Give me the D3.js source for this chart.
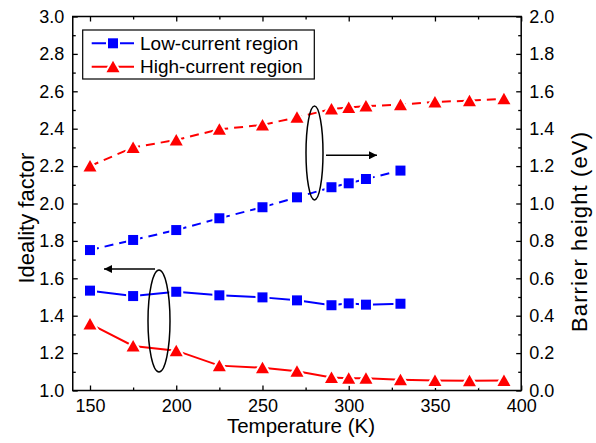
<!DOCTYPE html>
<html><head><meta charset="utf-8">
<script src="https://cdn.jsdelivr.net/npm/d3@7"></script>
<style>body{margin:0;background:#fff}svg{display:block}text{font-family:"Liberation Sans",Arial,sans-serif;fill:#000}</style>
</head><body><svg id="c" width="596" height="443"></svg>
<script>
const tempLow = [150,175,200,225,250,270,290,300,310,330];
const idealLow = [1.534,1.505,1.528,1.509,1.498,1.482,1.456,1.466,1.459,1.464];
const barrierLow = [0.751,0.805,0.858,0.921,0.980,1.033,1.087,1.108,1.131,1.176];
const tempHigh = [150,175,200,225,250,270,290,300,310,330,350,370,390];
const idealHigh = [1.356,1.238,1.213,1.133,1.122,1.103,1.070,1.065,1.065,1.058,1.054,1.052,1.054];
const barrierHigh = [1.200,1.300,1.340,1.397,1.420,1.461,1.505,1.514,1.521,1.528,1.543,1.550,1.560];
const xTicks = [150,200,250,300,350,400];
const yLeftTicks = [1.0,1.2,1.4,1.6,1.8,2.0,2.2,2.4,2.6,2.8,3.0];
const yRightTicks = [0.0,0.2,0.4,0.6,0.8,1.0,1.2,1.4,1.6,1.8,2.0];
const legendLabels = ["Low-current region","High-current region"];
const xLabel = "Temperature (K)", yLeftLabel = "Ideality factor", yRightLabel = "Barrier height (eV)";

const L = 72.75, R = 521.2, T = 16.5, B = 390.5;
const x = d3.scaleLinear().domain([140,400]).range([L,R]);
const yL = d3.scaleLinear().domain([1,3]).range([B,T]);
const yR = d3.scaleLinear().domain([0,2]).range([B,T]);
const svg = d3.select("#c");
const blue = "#0000ff", red = "#ff0000";

// axes
const minorX = d3.range(150,400,25).filter(v=>v%50!==0);
function fmt(v){return v.toFixed(1);}
const gB = svg.append("g").attr("transform",`translate(0,${B})`);
gB.call(d3.axisBottom(x).tickValues(xTicks).tickSize(-5).tickPadding(8.5).tickFormat(d3.format("d")));
gB.append("g").call(d3.axisBottom(x).tickValues(minorX).tickSize(-3).tickFormat(""));
const gT = svg.append("g").attr("transform",`translate(0,${T})`);
gT.call(d3.axisTop(x).tickValues(xTicks).tickSize(-5).tickFormat(""));
gT.append("g").call(d3.axisTop(x).tickValues(minorX).tickSize(-3).tickFormat(""));
const gLft = svg.append("g").attr("transform",`translate(${L},0)`);
gLft.call(d3.axisLeft(yL).tickValues(yLeftTicks).tickSize(-5).tickPadding(8.5).tickFormat(fmt));
gLft.append("g").call(d3.axisLeft(yL).tickValues(d3.range(1.1,3,0.2)).tickSize(-3).tickFormat(""));
const gRt = svg.append("g").attr("transform",`translate(${R},0)`);
gRt.call(d3.axisRight(yR).tickValues(yRightTicks).tickSize(-5).tickPadding(8).tickFormat(fmt));
gRt.append("g").call(d3.axisRight(yR).tickValues(d3.range(0.1,2,0.2)).tickSize(-3).tickFormat(""));
svg.selectAll(".domain").remove();
svg.selectAll(".tick line").attr("stroke","#000").attr("stroke-width",1.3);
svg.selectAll(".tick text").attr("font-size",18).attr("font-family","Liberation Sans, Arial, sans-serif").attr("fill","#000");
svg.append("rect").attr("x",L).attr("y",T).attr("width",R-L).attr("height",B-T)
  .attr("fill","none").attr("stroke","#000").attr("stroke-width",1.5);

// titles
svg.append("text").attr("x",(L+R)/2+4).attr("y",433).attr("text-anchor","middle").attr("font-size",20.5).text(xLabel);
svg.append("text").attr("transform","translate(33.5,283.5) rotate(-90)").attr("font-size",22).text(yLeftLabel);
svg.append("text").attr("transform","translate(587,332) rotate(-90)").attr("font-size",22)
  .attr("textLength",200).attr("lengthAdjust","spacing").text(yRightLabel);

// series
const series = [
  {t:tempLow, v:idealLow, y:yL, c:blue, m:"sq", dash:null},
  {t:tempHigh, v:idealHigh, y:yL, c:red, m:"tri", dash:null},
  {t:tempLow, v:barrierLow, y:yR, c:blue, m:"sq", dash:"9,6"},
  {t:tempHigh, v:barrierHigh, y:yR, c:red, m:"tri", dash:"9,6"}
];
function markerPath(m){
  if(m==="sq") return "M-5,-5H5V5H-5Z";
  return "M0,-6L6.5,5.5L-6.5,5.5Z";
}
series.forEach(s=>{
  const pts = s.t.map((t,i)=>[x(t), s.y(s.v[i])]);
  svg.append("path").attr("d",d3.line()(pts)).attr("fill","none").attr("stroke",s.c)
    .attr("stroke-width",2).attr("stroke-dasharray",s.dash);
  svg.append("g").selectAll("path").data(pts).join("path")
    .attr("transform",d=>`translate(${d[0]},${d[1]})`).attr("d",markerPath(s.m))
    .attr("fill",s.c).attr("stroke","#fff").attr("stroke-width",4).attr("paint-order","stroke");
});

// annotations: ellipses and arrows
svg.append("defs").append("marker").attr("id","ah").attr("viewBox","0 0 10 10").attr("refX",10).attr("refY",5)
  .attr("markerWidth",10).attr("markerHeight",8).attr("markerUnits","userSpaceOnUse").attr("orient","auto")
  .append("path").attr("d","M0,0L10,5L0,10Z").attr("fill","#000");
svg.append("ellipse").attr("cx",314.5).attr("cy",153).attr("rx",8.5).attr("ry",47)
  .attr("fill","none").attr("stroke","#000").attr("stroke-width",1.5);
svg.append("line").attr("x1",326).attr("y1",155.3).attr("x2",377).attr("y2",155.3)
  .attr("stroke","#000").attr("stroke-width",1.5).attr("marker-end","url(#ah)");
svg.append("ellipse").attr("cx",159).attr("cy",321).attr("rx",11).attr("ry",51)
  .attr("fill","none").attr("stroke","#000").attr("stroke-width",1.5);
svg.append("line").attr("x1",155).attr("y1",269).attr("x2",104).attr("y2",269)
  .attr("stroke","#000").attr("stroke-width",1.5).attr("marker-end","url(#ah)");

// legend
const lg = svg.append("g");
lg.append("rect").attr("x",82.7).attr("y",30).attr("width",231.6).attr("height",49)
  .attr("fill","#fff").attr("stroke","#000").attr("stroke-width",1.2);
[[blue,"sq",43.3],[red,"tri",66.7]].forEach((e,i)=>{
  lg.append("line").attr("x1",91.7).attr("x2",134).attr("y1",e[2]).attr("y2",e[2]).attr("stroke",e[0]).attr("stroke-width",2);
  lg.append("path").attr("transform",`translate(113,${e[2]})`).attr("d",markerPath(e[1]))
    .attr("fill",e[0]).attr("stroke","#fff").attr("stroke-width",4).attr("paint-order","stroke");
  lg.append("text").attr("x",140).attr("y",e[2]).attr("dy","0.35em").attr("font-size",19).text(legendLabels[i]);
});
</script></body></html>
